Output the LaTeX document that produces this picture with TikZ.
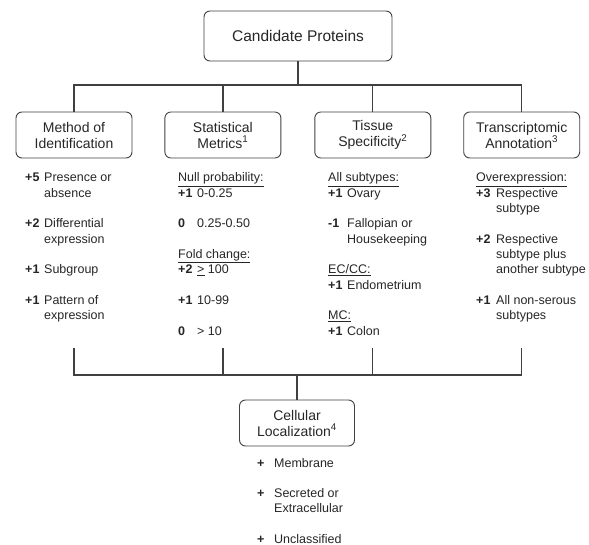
\documentclass[tikz,border=0pt]{standalone}
\usepackage{fontspec}
\setmainfont{Liberation Sans}
\usetikzlibrary{positioning}
\tikzset{>=stealth}

\begin{document}
\begin{tikzpicture}[x=1pt, y=-1pt, every node/.style={font=\fontsize{12.5}{15.3}\selectfont, text=black!85},
  box/.style={draw=black!75, line width=0.9pt, rounded corners=6pt, minimum width=116pt, minimum height=46pt, align=center, inner sep=2pt, font=\fontsize{14}{16}\selectfont},
  items/.style={anchor=base west, inner sep=0pt},
  link/.style={draw=black!75, line width=1.2pt}]
\useasboundingbox (0,0) rectangle (589,545);
\node[box, minimum width=188pt, minimum height=50pt, font=\fontsize{15.5}{18}\selectfont] (cand) at (298,36) {Candidate Proteins};
\node[box] (method) at (74,135) {Method of\\Identification};
\node[box, right=32pt of method] (stat) {Statistical\\Metrics\textsuperscript{1}};
\node[box, right=33pt of stat] (tissue) {Tissue\\Specificity\textsuperscript{2}};
\node[box, right=32pt of tissue] (trans) {Transcriptomic\\Annotation\textsuperscript{3}};
\node[box, minimum width=115pt] (cell) at (297,423) {Cellular\\Localization\textsuperscript{4}};
% score lists
\node[items] (method-list) at (25,182) {\begin{tabular}[t]{@{}p{19pt}@{}l@{}}
\textbf{+5} & Presence or\\ & absence\\ \\
\textbf{+2} & Differential\\ & expression\\ \\
\textbf{+1} & Subgroup\\ \\
\textbf{+1} & Pattern of\\ & expression
\end{tabular}};
\node[items] (stat-list) at (178,182) {\begin{tabular}[t]{@{}p{19pt}@{}l@{}}
\multicolumn{2}{@{}l@{}}{\underline{Null probability:}}\\
\textbf{+1} & 0-0.25\\ \\
\textbf{0} & 0.25-0.50\\ \\
\multicolumn{2}{@{}l@{}}{\underline{Fold change:}}\\
\textbf{+2} & \underline{>} 100\\ \\
\textbf{+1} & 10-99\\ \\
\textbf{0} & > 10
\end{tabular}};
\node[items] (tissue-list) at (328,182) {\begin{tabular}[t]{@{}p{19pt}@{}l@{}}
\multicolumn{2}{@{}l@{}}{\underline{All subtypes:}}\\
\textbf{+1} & Ovary\\ \\
\textbf{-1} & Fallopian or\\ & Housekeeping\\ \\
\multicolumn{2}{@{}l@{}}{\underline{EC/CC:}}\\
\textbf{+1} & Endometrium\\ \\
\multicolumn{2}{@{}l@{}}{\underline{MC:}}\\
\textbf{+1} & Colon
\end{tabular}};
\node[items] (trans-list) at (476,182) {\begin{tabular}[t]{@{}p{20pt}@{}l@{}}
\multicolumn{2}{@{}l@{}}{\underline{Overexpression:}}\\
\textbf{+3} & Respective\\ & subtype\\ \\
\textbf{+2} & Respective\\ & subtype plus\\ & another subtype\\ \\
\textbf{+1} & All non-serous\\ & subtypes
\end{tabular}};
\node[items] (cell-list) at (257,467) {\begin{tabular}[t]{@{}p{17pt}@{}l@{}}
\textbf{+} & Membrane\\ \\
\textbf{+} & Secreted or\\ & Extracellular\\ \\
\textbf{+} & Unclassified
\end{tabular}};
% connectors
\coordinate (top) at (298,85);
\coordinate (tick) at (0,348);
\coordinate (bot) at (297,375);
\draw[link] (cand) -- (top);
\draw[link] (method.north) |- (top) -| (trans.north);
\draw[link] (stat.north) -- (stat.north |- top);
\draw[link] (tissue.north) -- (tissue.north |- top);
\draw[link] (method |- tick) |- (bot) -| (trans |- tick);
\draw[link] (stat |- tick) -- (stat |- bot);
\draw[link] (tissue |- tick) -- (tissue |- bot);
\draw[link] (bot) -- (cell);
\end{tikzpicture}
\end{document}
